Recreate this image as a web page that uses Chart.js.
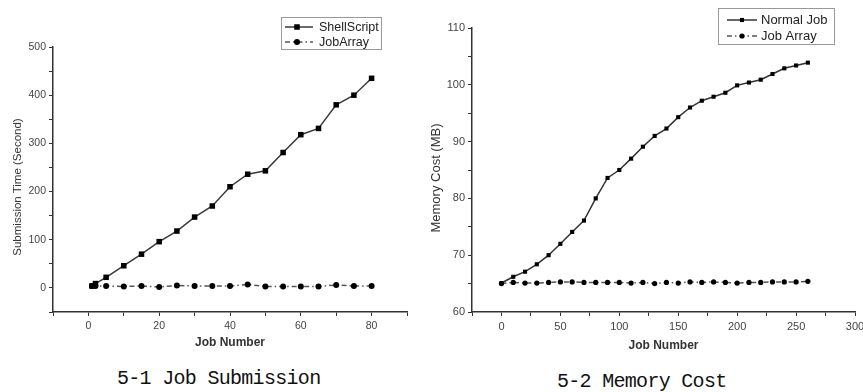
<!DOCTYPE html>
<html>
<head>
<meta charset="utf-8">
<script src="https://cdn.jsdelivr.net/npm/chart.js@4.4.1/dist/chart.umd.min.js"></script>
<style>
    body { margin: 0; background: #fff; width: 863px; height: 392px; overflow: hidden; position: relative; }
    canvas { position: absolute; top: 0; }
    .caption { position: absolute; font-family: "Liberation Mono", monospace; font-size: 20px; line-height: 20px;
        letter-spacing: -0.7px; color: #111; white-space: nowrap; }
    .ytitle { position: absolute; width: 300px; margin-left: -150px; text-align: center; line-height: 14px; margin-top: -7px;
        font-family: "Liberation Sans", Arial, sans-serif; color: #333; transform: rotate(-90deg); white-space: nowrap; }
</style>
</head>
<body>
<canvas id="submitChart" width="420" height="360" style="left:0"></canvas>
<canvas id="memoryChart" width="443" height="365" style="left:420px"></canvas>
<div class="ytitle" style="left:17px; top:187px; font-size:11.5px;">Submission Time (Second)</div>
<div class="ytitle" style="left:436px; top:178px; font-size:13px;">Memory Cost (MB)</div>
<div class="caption" style="left:117px; top:369px;">5-1 Job Submission</div>
<div class="caption" style="left:557px; top:372px;">5-2 Memory Cost</div>
<script>
// 5-1 job submission
const submitJobs = [1, 2, 5, 10, 15, 20, 25, 30, 35, 40, 45, 50, 55, 60, 65, 70, 75, 80];
const shellScriptTimes = [4, 9, 22, 46, 70, 96, 118, 147, 170, 210, 236, 243, 281, 318, 331, 380, 400, 435];
const jobArrayTimes = [4, 4, 4, 3, 4, 2, 5, 4, 4, 4, 7, 3, 3, 3, 3, 6, 4, 4];

// 5-2 memory cost
const memoryJobs = [0, 10, 20, 30, 40, 50, 60, 70, 80, 90, 100, 110, 120, 130, 140, 150, 160, 170, 180, 190, 200, 210, 220, 230, 240, 250, 260];
const normalJobMemory = [65.1, 66.2, 67.1, 68.4, 70.0, 72.0, 74.1, 76.1, 80.0, 83.6, 85.0, 87.0, 89.1, 91.0, 92.3, 94.3, 96.0, 97.2, 97.9, 98.6, 99.9, 100.4, 100.9, 101.9, 102.9, 103.4, 103.9];
const jobArrayMemory = [65.0, 65.2, 65.1, 65.1, 65.2, 65.3, 65.3, 65.2, 65.2, 65.2, 65.2, 65.1, 65.2, 65.0, 65.2, 65.1, 65.3, 65.2, 65.3, 65.2, 65.1, 65.2, 65.2, 65.3, 65.3, 65.3, 65.4];

const FONT = '"Liberation Sans", Arial, sans-serif';
const dashDot = [5, 3, 1.5, 3];

const toPoints = (xs, ys) => xs.map((x, i) => ({ x: x, y: ys[i] }));

// boxed legend like the original plots (line sample + marker + label)
const boxLegend = {
    id: 'boxLegend',
    afterDraw(chart, args, o) {
        const ctx = chart.ctx;
        ctx.save();
        ctx.strokeStyle = '#999';
        ctx.lineWidth = 1;
        ctx.strokeRect(o.x + 0.5, o.y + 0.5, o.w, o.h);
        chart.data.datasets.forEach((ds, i) => {
            const y = o.rows[i];
            ctx.strokeStyle = ds.borderColor;
            ctx.lineWidth = ds.borderWidth;
            ctx.setLineDash(ds.borderDash || []);
            ctx.beginPath();
            ctx.moveTo(o.x0, y);
            ctx.lineTo(o.x1, y);
            ctx.stroke();
            ctx.setLineDash([]);
            ctx.fillStyle = '#000';
            const r = ds.pointRadius;
            if (ds.pointStyle === 'rect') {
                const s = Math.SQRT1_2 * r;
                ctx.fillRect(o.mx - s, y - s, 2 * s, 2 * s);
            } else {
                ctx.beginPath();
                ctx.arc(o.mx, y, r, 0, Math.PI * 2);
                ctx.fill();
            }
            ctx.fillStyle = '#222';
            ctx.font = o.fontSize + 'px ' + FONT;
            ctx.textBaseline = 'middle';
            ctx.fillText(ds.label, o.tx, y + 0.5);
        });
        ctx.restore();
    }
};

function axisX(min, max, step, labelEvery, tickSize, titlePad, height) {
    return {
        type: 'linear', min: min, max: max,
        afterFit: s => { s.height = height; s.paddingLeft = 0; s.paddingRight = 0; },
        ticks: {
            stepSize: step, autoSkip: false, maxRotation: 0, padding: 4, color: '#444',
            font: { family: FONT, size: tickSize },
            callback: v => v % labelEvery === 0 ? v : ''
        },
        grid: { drawOnChartArea: false, tickLength: 4, color: '#333' },
        border: { color: '#333', width: 1.5 },
        title: { display: true, text: 'Job Number', color: '#333', font: { family: FONT, size: 12, weight: 'bold' }, padding: { top: 0, bottom: titlePad } }
    };
}

function axisY(min, max, step, labelEvery, tickSize, width) {
    return {
        min: min, max: max,
        afterFit: s => { s.width = width; },
        ticks: {
            stepSize: step, autoSkip: false, padding: 3, color: '#444',
            font: { family: FONT, size: tickSize },
            callback: v => v % labelEvery === 0 ? v : ''
        },
        grid: { drawOnChartArea: false, tickLength: 4, color: '#333' },
        border: { color: '#333', width: 1.5 }
    };
}

new Chart(document.getElementById('submitChart'), {
    type: 'line',
    data: {
        datasets: [
            {
                label: 'ShellScript', data: toPoints(submitJobs, shellScriptTimes),
                borderColor: '#3a3a3a', borderWidth: 1.5,
                pointStyle: 'rect', pointRadius: 3.9, pointBackgroundColor: '#000', pointBorderWidth: 0
            },
            {
                label: 'JobArray', data: toPoints(submitJobs, jobArrayTimes),
                borderColor: '#555', borderWidth: 1.5, borderDash: dashDot,
                pointStyle: 'circle', pointRadius: 3, pointBackgroundColor: '#000', pointBorderWidth: 0
            }
        ]
    },
    options: {
        responsive: false,
        animation: false,
        layout: { padding: { top: 47, right: 13, left: 0, bottom: 0 } },
        plugins: {
            legend: { display: false },
            tooltip: { enabled: false },
            boxLegend: { x: 281, y: 17, w: 100, h: 32, rows: [27, 42], x0: 285, x1: 313, mx: 297, tx: 319, fontSize: 12.5 }
        },
        scales: {
            x: axisX(-10, 90, 10, 20, 10.5, 10, 48),
            y: axisY(-50, 500, 50, 100, 10.5, 53)
        }
    },
    plugins: [boxLegend]
});

new Chart(document.getElementById('memoryChart'), {
    type: 'line',
    data: {
        datasets: [
            {
                label: 'Normal Job', data: toPoints(memoryJobs, normalJobMemory),
                borderColor: '#333', borderWidth: 1.5,
                pointStyle: 'rect', pointRadius: 2.9, pointBackgroundColor: '#000', pointBorderWidth: 0
            },
            {
                label: 'Job Array', data: toPoints(memoryJobs, jobArrayMemory),
                borderColor: '#555', borderWidth: 1.5, borderDash: dashDot,
                pointStyle: 'circle', pointRadius: 2.6, pointBackgroundColor: '#000', pointBorderWidth: 0
            }
        ]
    },
    options: {
        responsive: false,
        animation: false,
        layout: { padding: { top: 28, right: 8, left: 0, bottom: 0 } },
        plugins: {
            legend: { display: false },
            tooltip: { enabled: false },
            boxLegend: { x: 298, y: 8, w: 116, h: 36, rows: [20, 36], x0: 307, x1: 337, mx: 322, tx: 341, fontSize: 13 }
        },
        scales: {
            x: axisX(-25, 300, 25, 50, 11, 12, 53),
            y: axisY(60, 110, 5, 10, 11, 52)
        }
    },
    plugins: [boxLegend]
});
</script>
</body>
</html>
